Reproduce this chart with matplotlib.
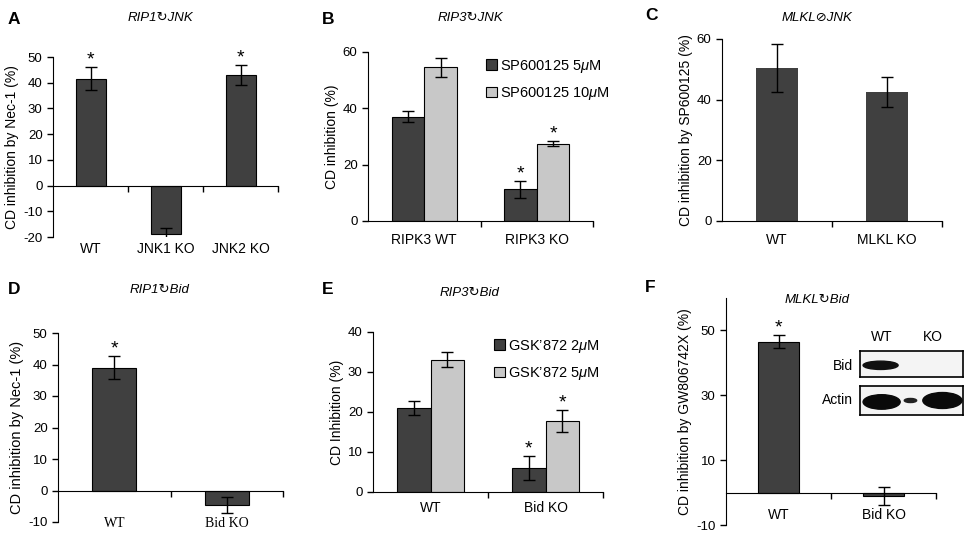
import matplotlib
matplotlib.use('Agg')
import matplotlib.pyplot as plt
from matplotlib.patches import Ellipse, Patch
import numpy as np

plt.rcParams['font.family'] = ['Liberation Sans', 'DejaVu Sans']
plt.rcParams['mathtext.fontset'] = 'custom'
plt.rcParams['mathtext.rm'] = 'Liberation Sans'
plt.rcParams['mathtext.it'] = 'Liberation Sans:italic'
plt.rcParams['axes.unicode_minus'] = False
plt.rcParams['font.size'] = 9

# ---- data ----
a_cats = ['WT', 'JNK1 KO', 'JNK2 KO']
a_vals = [41.5, -19, 43]
a_err = [4.5, 2.5, 3.7]
a_sig = [True, False, True]

b_cats = ['RIPK3 WT', 'RIPK3 KO']
b_low = [37, 11.2]
b_low_err = [2, 3]
b_high = [54.5, 27.5]
b_high_err = [3.5, 1]
b_low_sig = [False, True]
b_high_sig = [False, True]
b_labels = ['SP600125 5$\\mu$M', 'SP600125 10$\\mu$M']

c_cats = ['WT', 'MLKL KO']
c_vals = [50.5, 42.5]
c_err = [8, 5]

d_cats = ['WT', 'Bid KO']
d_vals = [39, -4.5]
d_err = [3.6, 2.5]
d_sig = [True, False]

e_cats = ['WT', 'Bid KO']
e_low = [21, 6]
e_low_err = [1.8, 3]
e_high = [33.1, 17.8]
e_high_err = [1.8, 2.8]
e_low_sig = [False, True]
e_high_sig = [False, True]
e_labels = ['GSK\u2019872 2$\\mu$M', 'GSK\u2019872 5$\\mu$M']

f_cats = ['WT', 'Bid KO']
f_vals = [46.5, -1]
f_err = [2, 2.8]
f_sig = [True, False]

DARK = '#404040'
LIGHT = '#c8c8c8'
W, H = 966, 533

fig = plt.figure(figsize=(W / 100, H / 100), dpi=100)


def make_ax(l, t, r, b):
    return fig.add_axes([l / W, 1 - b / H, (r - l) / W, (b - t) / H])


def style(ax, n, ylim, yticks, label_y, cats, ylabel, serif=False, ylsize=10):
    ax.set_xlim(-0.5, n - 0.5)
    ax.set_ylim(*ylim)
    ax.set_yticks(yticks)
    ax.spines['top'].set_visible(False)
    ax.spines['right'].set_visible(False)
    ax.spines['bottom'].set_position(('data', 0))
    ax.set_xticks(np.arange(n) + 0.5)
    ax.set_xticklabels([])
    ax.tick_params(axis='x', direction='out', length=4, width=1)
    ax.tick_params(axis='y', direction='out', length=4, width=1, labelsize=9.5)
    ax.set_ylabel(ylabel, fontsize=ylsize, labelpad=3)
    fam = ['Liberation Serif'] if serif else ['Liberation Sans']
    for i, c in enumerate(cats):
        ax.text(i, label_y, c, ha='center', va='center', fontsize=10, family=fam)


def stars(ax, xs, vals, errs, sig):
    for x, v, e, s in zip(xs, vals, errs, sig):
        if s:
            ax.annotate('*', (x, v + e), xytext=(0, -1), textcoords='offset points',
                        ha='center', va='bottom', fontsize=14)


def single(ax, vals, errs, width, edge=True):
    x = np.arange(len(vals))
    ax.bar(x, vals, width, color=DARK, edgecolor='black' if edge else DARK,
           linewidth=0.8 if edge else 0, zorder=2)
    ax.errorbar(x, vals, yerr=errs, fmt='none', ecolor='black', elinewidth=1,
                capsize=4, capthick=1, zorder=3)
    return x


def grouped(ax, low, low_err, high, high_err, width):
    x = np.arange(len(low))
    xl, xh = x - width / 2, x + width / 2
    ax.bar(xl, low, width, color=DARK, edgecolor='black', linewidth=0.8, zorder=2)
    ax.bar(xh, high, width, color=LIGHT, edgecolor='black', linewidth=0.8, zorder=2)
    ax.errorbar(xl, low, yerr=low_err, fmt='none', ecolor='black', elinewidth=1,
                capsize=4, capthick=1, zorder=3)
    ax.errorbar(xh, high, yerr=high_err, fmt='none', ecolor='black', elinewidth=1,
                capsize=4, capthick=1, zorder=3)
    return xl, xh


def legend(ax, labels, anchor):
    handles = [Patch(facecolor=DARK, edgecolor='black', linewidth=0.8),
               Patch(facecolor=LIGHT, edgecolor='black', linewidth=0.8)]
    ax.legend(handles, labels, loc='upper left', bbox_to_anchor=anchor, frameon=False,
              handlelength=0.75, handleheight=0.75, handletextpad=0.2,
              labelspacing=0.7, fontsize=10.5, borderaxespad=0)


def title(x, y, txt):
    fig.text(x / W, 1 - y / H, txt, ha='center', va='center', fontsize=9.5,
             style='italic', family=['Liberation Sans', 'DejaVu Sans'])


def letter(x, y, txt):
    fig.text(x / W, 1 - y / H, txt, ha='left', va='center', fontsize=12.5,
             fontweight='bold')


# ---- A ----
ax = make_ax(53, 57, 278, 237)
x = single(ax, a_vals, a_err, 0.4)
stars(ax, x, a_vals, a_err, a_sig)
style(ax, 3, (-20, 50), range(-20, 51, 10), -24.5, a_cats, 'CD inhibition by Nec-1 (%)')

# ---- B ----
ax = make_ax(368, 52, 593, 221)
xl, xh = grouped(ax, b_low, b_low_err, b_high, b_high_err, 0.29)
stars(ax, xl, b_low, b_low_err, b_low_sig)
stars(ax, xh, b_high, b_high_err, b_high_sig)
style(ax, 2, (0, 60), range(0, 61, 20), -6.7, b_cats, 'CD inhibition (%)')
legend(ax, b_labels, (0.5, 1.0))

# ---- C ----
ax = make_ax(722, 39, 942, 221)
single(ax, c_vals, c_err, 0.39, edge=False)
style(ax, 2, (0, 60), range(0, 61, 20), -6.3, c_cats, 'CD inhibition by SP600125 (%)')

# ---- D ----
ax = make_ax(58, 333, 283, 522)
x = single(ax, d_vals, d_err, 0.39)
stars(ax, x, d_vals, d_err, d_sig)
style(ax, 2, (-10, 50), range(-10, 51, 10), -10.5, d_cats, 'CD inhibition by Nec-1 (%)',
      serif=True, ylsize=10.5)

# ---- E ----
ax = make_ax(373, 332, 603, 492)
xl, xh = grouped(ax, e_low, e_low_err, e_high, e_high_err, 0.29)
stars(ax, xl, e_low, e_low_err, e_low_sig)
stars(ax, xh, e_high, e_high_err, e_high_sig)
style(ax, 2, (0, 40), range(0, 41, 10), -4, e_cats, 'CD Inhibition (%)')
legend(ax, e_labels, (0.5, 1.0))

# ---- F ----
ax = make_ax(726, 298, 936, 525)
x = single(ax, f_vals, f_err, 0.39)
stars(ax, x, f_vals, f_err, f_sig)
style(ax, 2, (-10, 60), range(-10, 51, 20), -6.8, f_cats, 'CD inhibition by GW806742X (%)')

# western blot inset
bid = make_ax(860, 351, 963, 377)
act = make_ax(860, 386, 963, 415)
for b in (bid, act):
    b.set_xlim(0, 1)
    b.set_ylim(0, 1)
    b.set_xticks([])
    b.set_yticks([])
    b.set_facecolor('#f4f4f4')
    for s in b.spines.values():
        s.set_linewidth(1.2)
bid.add_patch(Ellipse((0.2, 0.45), 0.34, 0.32, color='#111111'))
act.add_patch(Ellipse((0.21, 0.45), 0.36, 0.5, color='#0a0a0a'))
act.add_patch(Ellipse((0.49, 0.5), 0.12, 0.14, color='#222222'))
act.add_patch(Ellipse((0.8, 0.5), 0.38, 0.55, color='#0a0a0a'))
fig.text(882 / W, 1 - 337 / H, 'WT', ha='center', va='center', fontsize=10)
fig.text(933 / W, 1 - 337 / H, 'KO', ha='center', va='center', fontsize=10)
fig.text(853 / W, 1 - 366 / H, 'Bid', ha='right', va='center', fontsize=10)
fig.text(853 / W, 1 - 400 / H, 'Actin', ha='right', va='center', fontsize=10)

# titles and panel letters
title(160, 18, 'RIP1\u21bbJNK')
title(470, 18, 'RIP3\u21bbJNK')
title(817, 18, 'MLKL\u2298JNK')
title(160, 290, 'RIP1\u21bbBid')
title(470, 293, 'RIP3\u21bbBid')
title(817, 300, 'MLKL\u21bbBid')
letter(8, 20, 'A')
letter(322, 20, 'B')
letter(645, 16, 'C')
letter(8, 290, 'D')
letter(322, 290, 'E')
letter(645, 287, 'F')

fig.savefig('out.png', dpi=100)
